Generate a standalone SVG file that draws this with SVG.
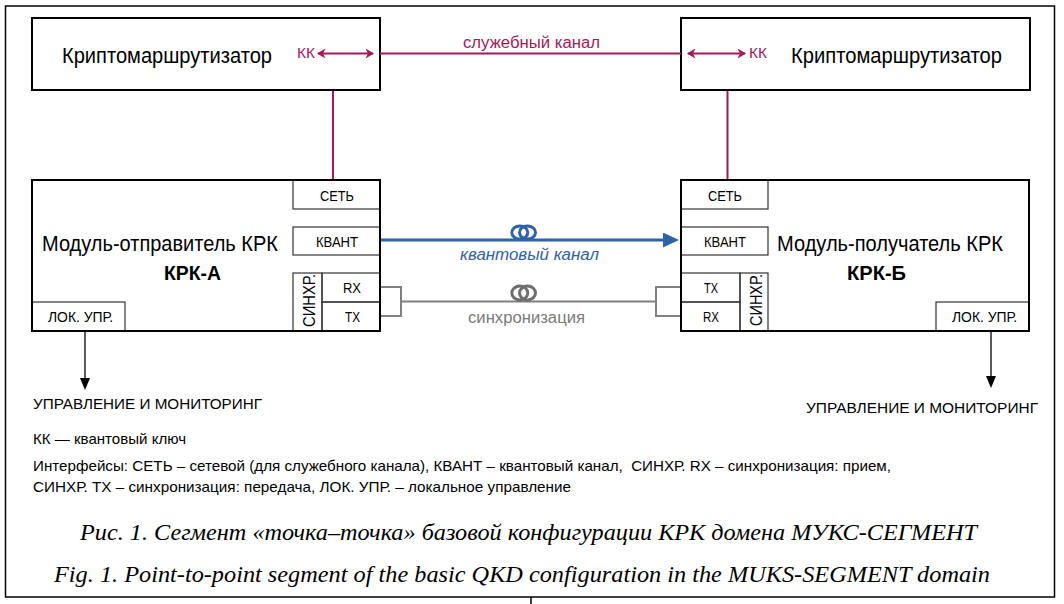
<svg xmlns="http://www.w3.org/2000/svg" width="1064" height="604" viewBox="0 0 1064 604">
<style>
text{font-family:"Liberation Sans",Arial,sans-serif;fill:#000}
.big{font-size:22px}
.lbl{font-size:14px}
.lbl15{font-size:15px}
.note{font-size:15px}
.bold{font-size:20px;font-weight:bold}
.cap{font-family:"Liberation Serif","Times New Roman",serif;font-style:italic;font-size:23px}
.main{fill:#fff;stroke:#000;stroke-width:2}
.sub{fill:none;stroke:#333;stroke-width:1.2}
.mag{stroke:#a3195b;stroke-width:2;fill:none}
.magt{fill:#a3195b}
.blue{stroke:#2f62a6;stroke-width:3;fill:none}
.gray{stroke:#808080;stroke-width:2;fill:none}
.blk{stroke:#000;stroke-width:1.3;fill:none}
</style>
<defs>
<marker id="mArr" markerUnits="userSpaceOnUse" markerWidth="9" markerHeight="11" viewBox="0 0 9 11" refX="7.5" refY="5.5" orient="auto-start-reverse">
<path d="M0,0.5 L8.5,5.5 L0,10.5 L2.5,5.5 z" fill="#a3195b"/>
</marker>
<marker id="bArr" markerUnits="userSpaceOnUse" markerWidth="16" markerHeight="15" viewBox="0 0 16 15" refX="2" refY="7.5" orient="auto">
<path d="M0,0 L16,7.5 L0,15 z" fill="#2f62a6"/>
</marker>
<marker id="kArr" markerUnits="userSpaceOnUse" markerWidth="12" markerHeight="10" viewBox="0 0 12 10" refX="1" refY="5" orient="auto">
<path d="M0,0 L12,5 L0,10 z" fill="#000"/>
</marker>
</defs>
<rect x="0" y="0" width="1064" height="604" fill="#fff"/>
<rect x="5.5" y="6" width="1049" height="591" fill="none" stroke="#000" stroke-width="1.5"/>
<line x1="531" y1="597" x2="531" y2="604" stroke="#000" stroke-width="1.5"/>

<g id="crypto-a">
<rect class="main" x="32" y="18" width="348" height="72"/>
<text class="big" x="62" y="63" textLength="210" lengthAdjust="spacingAndGlyphs">Криптомаршрутизатор</text>
<text class="lbl magt" x="297" y="58" textLength="18" lengthAdjust="spacingAndGlyphs">КК</text>
</g>

<g id="crypto-b">
<rect class="main" x="681" y="18" width="349" height="72"/>
<text class="big" x="791" y="63" textLength="211" lengthAdjust="spacingAndGlyphs">Криптомаршрутизатор</text>
<text class="lbl magt" x="749" y="58" textLength="18" lengthAdjust="spacingAndGlyphs">КК</text>
</g>

<g id="krk-a">
<rect class="main" x="32" y="180" width="348" height="151"/>
<rect class="sub" x="293" y="180" width="87" height="29"/>
<rect class="sub" x="293" y="227" width="87" height="28"/>
<rect class="sub" x="293" y="273" width="29" height="58"/>
<rect class="sub" x="322" y="273" width="58" height="29"/>
<rect class="sub" x="322" y="302" width="58" height="29"/>
<rect class="sub" x="32" y="302" width="93" height="29"/>
<rect x="32" y="180" width="348" height="151" fill="none" stroke="#000" stroke-width="2"/>
<text class="big" x="42" y="251" textLength="236" lengthAdjust="spacingAndGlyphs">Модуль-отправитель КРК</text>
<text class="bold" x="164" y="280" textLength="57" lengthAdjust="spacingAndGlyphs">КРК-А</text>
<text class="lbl" x="320" y="200.5" textLength="34" lengthAdjust="spacingAndGlyphs">СЕТЬ</text>
<text class="lbl" x="316" y="246.5" textLength="42" lengthAdjust="spacingAndGlyphs">КВАНТ</text>
<text class="lbl15" x="343" y="292.5" textLength="18" lengthAdjust="spacingAndGlyphs">RX</text>
<text class="lbl15" x="345" y="322" textLength="15" lengthAdjust="spacingAndGlyphs">TX</text>
<text class="lbl15" x="48" y="322" textLength="65" lengthAdjust="spacingAndGlyphs">ЛОК. УПР.</text>
<text style="font-size:17px" transform="translate(314.5,327) rotate(-90)" textLength="53" lengthAdjust="spacingAndGlyphs">СИНХР.</text>
</g>

<g id="krk-b">
<rect class="main" x="681" y="180" width="348" height="151"/>
<rect class="sub" x="681" y="180" width="87" height="29"/>
<rect class="sub" x="681" y="227" width="87" height="28"/>
<rect class="sub" x="740" y="273" width="28" height="58"/>
<rect class="sub" x="681" y="273" width="59" height="29"/>
<rect class="sub" x="681" y="302" width="59" height="29"/>
<rect class="sub" x="936" y="302" width="93" height="29"/>
<rect x="681" y="180" width="348" height="151" fill="none" stroke="#000" stroke-width="2"/>
<text class="big" x="777" y="251" textLength="226" lengthAdjust="spacingAndGlyphs">Модуль-получатель КРК</text>
<text class="bold" x="847" y="280" textLength="59" lengthAdjust="spacingAndGlyphs">КРК-Б</text>
<text class="lbl" x="708" y="200.5" textLength="34" lengthAdjust="spacingAndGlyphs">СЕТЬ</text>
<text class="lbl" x="704" y="246.5" textLength="42" lengthAdjust="spacingAndGlyphs">КВАНТ</text>
<text class="lbl15" x="704" y="292.5" textLength="14" lengthAdjust="spacingAndGlyphs">TX</text>
<text class="lbl15" x="703" y="322" textLength="16" lengthAdjust="spacingAndGlyphs">RX</text>
<text class="lbl15" x="952" y="322" textLength="65" lengthAdjust="spacingAndGlyphs">ЛОК. УПР.</text>
<text style="font-size:17px" transform="translate(762,326) rotate(-90)" textLength="52" lengthAdjust="spacingAndGlyphs">СИНХР.</text>
</g>

<g id="mgmt-a">
<text class="note" x="33" y="409" textLength="229" lengthAdjust="spacingAndGlyphs">УПРАВЛЕНИЕ И МОНИТОРИНГ</text>
</g>
<g id="mgmt-b">
<text class="note" x="806" y="413" textLength="232" lengthAdjust="spacingAndGlyphs">УПРАВЛЕНИЕ И МОНИТОРИНГ</text>
</g>

<g id="connectors">
<line class="mag" x1="380" y1="53.5" x2="681" y2="53.5"/>
<line class="mag" x1="318" y1="53.5" x2="373" y2="53.5" marker-start="url(#mArr)" marker-end="url(#mArr)"/>
<line class="mag" x1="688" y1="53.5" x2="745" y2="53.5" marker-start="url(#mArr)" marker-end="url(#mArr)"/>
<line class="mag" x1="333" y1="91" x2="333" y2="179"/>
<line class="mag" x1="727.5" y1="91" x2="727.5" y2="179"/>
<line class="blue" x1="381" y1="240" x2="665" y2="240" marker-end="url(#bArr)"/>
<path class="gray" d="M381,287 H401 V316 H381 M401,301.5 H656 M680,287 H656 V316 H680"/>
<ellipse cx="519.8" cy="232.5" rx="8" ry="6.5" fill="none" stroke="#2f62a6" stroke-width="3"/>
<ellipse cx="527.5" cy="232.5" rx="8" ry="6.5" fill="none" stroke="#2f62a6" stroke-width="3"/>
<ellipse cx="519.8" cy="293" rx="8" ry="7" fill="none" stroke="#6e6e6e" stroke-width="3"/>
<ellipse cx="527.5" cy="293" rx="8" ry="7" fill="none" stroke="#6e6e6e" stroke-width="3"/>
<line class="blk" x1="85" y1="332" x2="85" y2="379" marker-end="url(#kArr)"/>
<line class="blk" x1="991" y1="332" x2="991" y2="377" marker-end="url(#kArr)"/>
<text x="463" y="48" style="font-size:16px;fill:#a3195b" textLength="137" lengthAdjust="spacingAndGlyphs">служебный канал</text>
<text x="460" y="260" style="font-size:16px;font-style:italic;fill:#2f62a6" textLength="139" lengthAdjust="spacingAndGlyphs">квантовый канал</text>
<text x="468" y="323" style="font-size:16px;fill:#7a7a7a" textLength="117" lengthAdjust="spacingAndGlyphs">синхронизация</text>
</g>

<g id="legend">
<text class="note" x="33" y="444" textLength="153" lengthAdjust="spacingAndGlyphs">КК — квантовый ключ</text>
<text class="note" x="33" y="471" textLength="858" lengthAdjust="spacingAndGlyphs" style="white-space:pre">Интерфейсы: СЕТЬ – сетевой (для служебного канала), КВАНТ – квантовый канал,  СИНХР. RX – синхронизация: прием,</text>
<text class="note" x="33" y="492" textLength="538" lengthAdjust="spacingAndGlyphs">СИНХР. ТХ – синхронизация: передача, ЛОК. УПР. – локальное управление</text>
</g>

<g id="caption">
<text class="cap" x="80" y="540" textLength="897" lengthAdjust="spacingAndGlyphs">Рис. 1. Сегмент «точка–точка» базовой конфигурации КРК домена МУКС-СЕГМЕНТ</text>
<text class="cap" x="54" y="582" textLength="936" lengthAdjust="spacingAndGlyphs">Fig. 1. Point-to-point segment of the basic QKD configuration in the MUKS-SEGMENT domain</text>
</g>
</svg>
